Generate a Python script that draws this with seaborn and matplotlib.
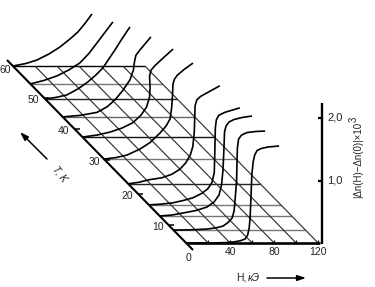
import numpy as np
import pandas as pd
import matplotlib
matplotlib.use("Agg")
import matplotlib.pyplot as plt
import seaborn as sns

# ---------- data ----------
T_tick_labels = [0, 10, 20, 30, 40, 50, 60]
H_ticks = [20, 40, 60, 80, 100, 120]
H_tick_labels = {40: "40", 80: "80", 120: "120"}
V_ticks = [1.0, 2.0]
V_tick_labels = ["1,0", "2,0"]

curve_T = [0, 7.2, 12.9, 16.5, 23, 30.3, 37.4, 43.9, 49.7, 54.4, 60]
curve_H = [
    [0, 21.8, 35.5, 42.7, 49.1, 53.6, 55.9, 57.3, 58.2, 59.1, 59.7, 60.9, 62.3, 64.5, 68.2, 74.5, 84.5],
    [0, 15, 30.5, 38.7, 45.1, 49.6, 53.3, 55.1, 56, 57.4, 57.8, 58.1, 59.2, 61.9, 66.9, 74.2, 83.3],
    [0, 11.2, 21.2, 33, 43, 49.4, 53.9, 56.2, 57.5, 58.5, 58.9, 60.3, 63, 67.5, 74.8, 83.9],
    [0, 10.9, 21.8, 31.8, 40, 48.2, 53.6, 57.3, 59.5, 60, 60.5, 61.4, 63.6, 69.1, 82.7],
    [0, 9.6, 18.7, 30.5, 39.6, 46.9, 52.4, 56.5, 58.7, 60.1, 60.5, 60.8, 62.4, 66, 74.2, 83.3],
    [0, 10.9, 20.9, 32.7, 41.8, 50.9, 56.4, 60, 61.5, 62.3, 62.7, 64.1, 66.8, 72.7, 80.9],
    [0, 13.3, 25.1, 36, 46, 53.3, 58.3, 61, 61.5, 61, 62.4, 66, 73.3, 82.4],
    [0, 15.6, 31.1, 40.2, 47.5, 54.7, 61.1, 64.3, 65.2, 66.5, 70.2, 75.6, 80.2],
    [0, 9.8, 19.8, 29.8, 38.9, 46.2, 52.5, 58, 63.5, 69.8, 77.1],
    [0, 12.3, 24.1, 35, 45, 53.2, 60.5, 67.7, 75],
    [0, 11.9, 21.9, 32.8, 42.8, 51.9, 59.1, 65.5, 71.9],
]
curve_V = [
    [0, 0, .006, .016, .035, .064, .128, .24, .416, .816, 1.088, 1.296, 1.408, 1.48, 1.512, 1.536, 1.552],
    [0, .003, .016, .035, .064, .12, .192, .304, .48, .8, 1.12, 1.312, 1.456, 1.52, 1.56, 1.576, 1.584],
    [0, .016, .048, .088, .144, .224, .336, .496, .736, 1.136, 1.344, 1.44, 1.504, 1.544, 1.576, 1.6],
    [0, .011, .032, .072, .112, .184, .256, .352, .512, .832, 1.232, 1.36, 1.432, 1.48, 1.552],
    [0, .024, .064, .096, .152, .232, .336, .464, .592, .832, 1.072, 1.248, 1.344, 1.4, 1.48, 1.568],
    [0, .024, .064, .16, .264, .416, .528, .64, .816, 1.024, 1.2, 1.28, 1.344, 1.432, 1.536],
    [0, .032, .08, .144, .232, .352, .48, .64, .784, .976, 1.072, 1.144, 1.264, 1.408],
    [0, .024, .072, .16, .272, .424, .592, .752, .88, .984, 1.072, 1.184, 1.28],
    [0, .024, .064, .16, .272, .384, .496, .64, .784, .96, 1.152],
    [0, .056, .128, .224, .336, .488, .656, .824, .992],
    [0, .04, .096, .192, .304, .432, .544, .68, .832],
]
grid_gray = ["#000000", "#777777", "#222222", "#666666", "#111111", "#777777", "#222222",
             "#777777", "#777777", "#777777"]  # T = 60 ... going down

# ---------- oblique projection of (H, T, V) on the page ----------
T_axis_y = [243, 225, 194, 160, 129, 98, 66]

def axis_y(T):
    return np.interp(T, T_tick_labels, T_axis_y)

def proj(H, T, V=0.0):
    y0 = axis_y(T)
    x0 = 7 + (y0 - 60) * 0.979
    return x0 + 1.1 * np.asarray(H, float), y0 - 62.5 * np.asarray(V, float)

sns.set_theme(style="white")
plt.rcParams["font.family"] = ["Liberation Sans", "DejaVu Sans"]
fig = plt.figure(figsize=(3.75, 2.87), dpi=100)
ax = fig.add_axes([0, 0, 1, 1])
ax.set_xlim(0, 375)
ax.set_ylim(287, 0)
ax.axis("off")

def draw(xs, ys, color="black", lw=1.0):
    df = pd.DataFrame({"x": xs, "y": ys})
    sns.lineplot(data=df, x="x", y="y", sort=False, estimator=None, color=color,
                 linewidth=lw, ax=ax, legend=False, solid_joinstyle="round",
                 solid_capstyle="butt")

# grid: horizontals at every curve's T
for T, c in zip(curve_T[1:][::-1], grid_gray):
    x, y = proj([0, 120], T)
    draw(x, y, c, 1.0)
# grid: obliques of constant H
for H in H_ticks:
    x, y = proj([H, H], [0, 60])
    draw(x, y, "#333333", 0.85)
    tx, ty = proj(H, 0)
    draw([tx, tx], [ty, ty - 3], "black", 0.9)

# curves
for T, hs, vs in zip(curve_T, curve_H, curve_V):
    x, y = proj(hs, T, vs)
    draw(x, y, "black", 1.2)

# axes
x, y = proj([0, 120], 0)
draw([x[0], x[1] + 2], y, "black", 1.9)
draw([7, 193], [60, 250], "black", 1.5)
draw([322, 322], proj(120, 0, np.array([2.24, -0.02]))[1], "black", 1.7)

# vertical axis ticks + labels
for v, lab in zip(V_ticks, V_tick_labels):
    _, vy = proj(120, 0, v)
    draw([318, 322], [vy, vy], "black", 1.6)
    ax.text(327, vy, lab, fontsize=8, va="center", ha="left", color="#222222")

# T ticks + labels
for T in T_tick_labels[1:]:
    xx, yy = proj(0, T)
    if T != 60:
        draw([xx, xx + 5], [yy, yy], "black", 1.1)
    ax.text(xx - 5 if T != 60 else 11, yy + 2 if T != 60 else yy + 4, str(T), fontsize=7.5,
            va="center", ha="right", color="#222222")
ax.text(189, 258, "0", fontsize=7.5, va="center", ha="center", color="#222222")

# H labels
for H, lab in H_tick_labels.items():
    tx, ty = proj(H, 0)
    ax.text(tx, 252, lab, fontsize=7.5, va="center", ha="center", color="#222222")

# axis titles
ax.text(236, 278, "H,", fontsize=7.5, va="center", ha="left", color="#222222")
ax.text(248, 278, "кЭ", fontsize=7.5, style="italic", va="center", ha="left", color="#222222")
ax.text(60, 174, "T, K", fontsize=7, style="italic", rotation=-52, va="center", ha="center",
        rotation_mode="anchor", color="#222222")
ax.text(358, 160, "|Δn(H)−Δn(0)|×10", fontsize=7, rotation=90, va="center", ha="center",
        color="#222222")
ax.text(354, 119, "3", fontsize=7, rotation=90, va="center", ha="center", color="#222222")

# arrows
ax.annotate("", xy=(306, 278), xytext=(267, 278),
            arrowprops=dict(arrowstyle="-|>,head_length=0.42,head_width=0.14", color="black", lw=1.1,
                            shrinkA=0, shrinkB=0))
ax.annotate("", xy=(20, 132), xytext=(47, 159),
            arrowprops=dict(arrowstyle="-|>,head_length=0.42,head_width=0.14", color="black", lw=1.1,
                            shrinkA=0, shrinkB=0))

fig.savefig("out.png", dpi=100)
